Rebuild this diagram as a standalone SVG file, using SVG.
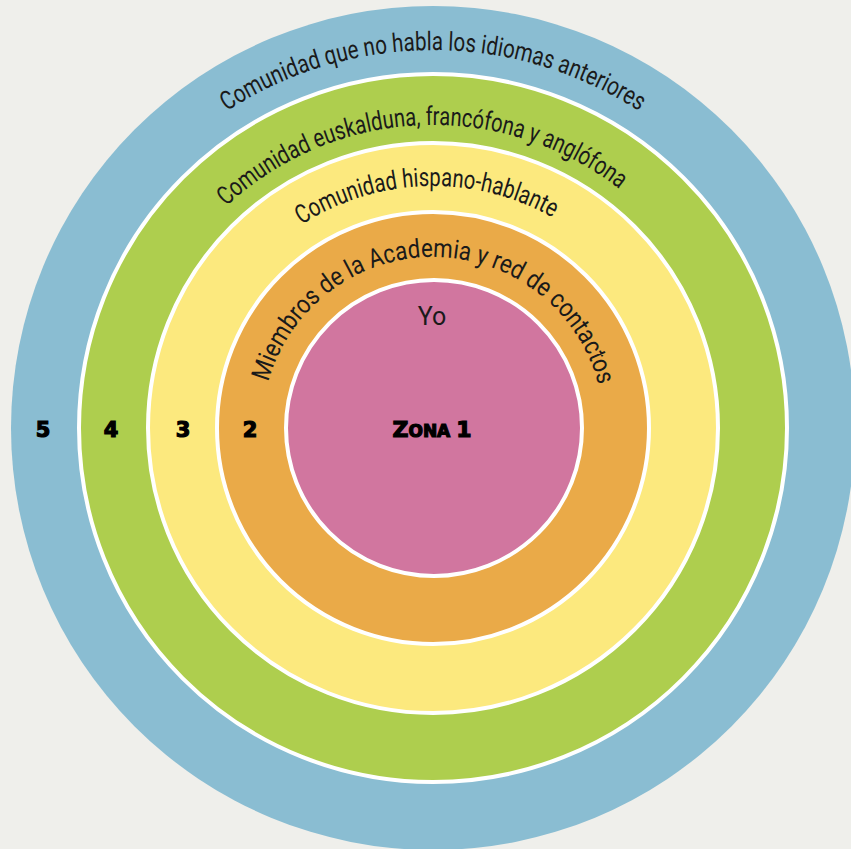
<svg xmlns="http://www.w3.org/2000/svg" width="851" height="849" viewBox="0 0 851 849">
<style>
.ring{stroke:#ffffff;stroke-width:4}
.arc{font-family:"Liberation Sans Narrow","Roboto","Open Sans",sans-serif;font-size:26px;fill:#1a1a1a}
.num{font-family:"DejaVu Sans","Lato",sans-serif;font-weight:900;font-size:21px;fill:#000;stroke:#000;stroke-width:1.2;text-anchor:middle}
</style>
<defs>
<path id="p5" d="M 55 428 A 378 378 0 0 1 811 428"/>
<path id="p4" d="M 130 428 A 303 303 0 0 1 736 428"/>
<path id="p3" d="M 191 428 A 242 242 0 0 1 675 428"/>
<path id="p2" d="M 262 428 A 171 171 0 0 1 604 428"/>
</defs>
<rect width="851" height="849" fill="#efefeb"/>
<g id="zona5">
<circle cx="433" cy="428" r="422" fill="#8abdd2"/>
<text class="arc"><textPath href="#p5" startOffset="50%" text-anchor="middle" textLength="436" lengthAdjust="spacingAndGlyphs">Comunidad que no habla los idiomas anteriores</textPath></text>
<text class="num" x="43" y="437">5</text>
</g>
<g id="zona4">
<circle class="ring" cx="433" cy="428" r="354" fill="#aece4e"/>
<text class="arc"><textPath href="#p4" startOffset="48.6%" text-anchor="middle" textLength="428" lengthAdjust="spacingAndGlyphs">Comunidad euskalduna, francófona y anglófona</textPath></text>
<text class="num" x="111" y="437">4</text>
</g>
<g id="zona3">
<circle class="ring" cx="433" cy="428" r="285" fill="#fce97e"/>
<text class="arc"><textPath href="#p3" startOffset="49.1%" text-anchor="middle" textLength="264" lengthAdjust="spacingAndGlyphs">Comunidad hispano-hablante</textPath></text>
<text class="num" x="183" y="437">3</text>
</g>
<g id="zona2">
<circle class="ring" cx="433" cy="428" r="216" fill="#eaaa48"/>
<text class="arc"><textPath href="#p2" startOffset="50.3%" text-anchor="middle" textLength="447" lengthAdjust="spacingAndGlyphs">Miembros de la Academia y red de contactos</textPath></text>
<text class="num" x="250" y="437">2</text>
</g>
<g id="zona1">
<circle class="ring" cx="434" cy="428" r="148" fill="#d1769f"/>
<text x="432" y="325" text-anchor="middle" font-family="Liberation Sans Narrow, Roboto, sans-serif" font-size="25" fill="#1a1a1a">Yo</text>
<text class="num" x="432" y="437"><tspan font-size="22">Z</tspan><tspan font-size="17">ONA </tspan><tspan font-size="22">1</tspan></text>
</g>
</svg>
